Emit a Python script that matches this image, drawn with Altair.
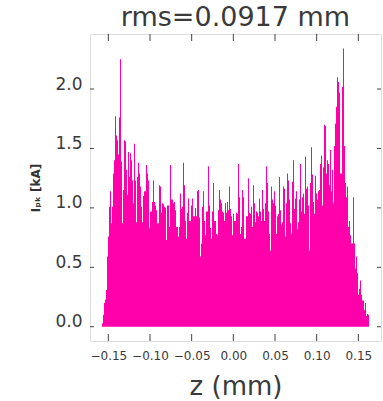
import altair as alt
import pandas as pd

# Peak current per bin (kA), read left to right, one bin per ~0.0012 mm
seg1 = [0.03, 0.10, 0.20, 0.23, 0.31, 0.59, 0.76, 1.01, 1.14, 0.87, 1.01, 1.29, 1.40, 1.77, 1.61, 1.57, 1.45, 1.76,
        2.25, 1.39, 0.87, 1.15, 1.57, 1.56, 1.32, 1.11, 1.47, 1.26, 1.46, 1.40, 1.23, 1.04, 1.54, 1.23, 0.88, 1.26]
seg2 = [1.38, 1.29, 1.18, 1.01, 0.88, 1.10, 1.14, 1.14, 1.36, 1.29, 1.23, 0.83, 0.97, 0.97, 1.05, 1.23, 1.05, 1.02,
        0.98, 0.87, 0.87, 1.19, 1.18, 0.96, 1.04, 1.03, 1.01, 1.00, 0.73, 1.02, 1.02, 0.84, 1.36, 1.07, 1.07, 1.04,
        1.05, 0.98, 0.84, 0.84]
seg3 = [0.76, 0.84, 1.12, 0.99, 1.01, 1.38, 1.19, 0.89, 0.74, 0.96, 1.08, 0.89, 0.89, 1.02, 1.08, 0.93, 0.93, 1.00,
        0.93, 1.14, 1.15, 0.92, 0.59, 0.70, 1.01, 1.14, 0.89, 0.77, 0.97, 0.97, 1.35, 1.02, 0.83, 0.74, 0.97, 1.21,
        0.89, 0.89, 0.78, 0.77]
seg4 = [0.98, 1.15, 1.07, 1.04, 0.97, 0.96, 0.89, 1.04, 0.96, 1.05, 0.98, 1.18, 0.99, 0.93, 0.77, 0.95, 0.89, 0.89,
        0.96, 0.95, 1.37, 1.09, 0.78, 0.84, 1.15, 1.09, 0.74, 0.74, 0.93, 0.93, 1.25, 0.96, 0.95, 1.01, 0.84, 1.19,
        1.04, 0.88, 0.97, 0.96]
seg5 = [0.93, 1.08, 0.97, 0.89, 1.15, 0.99, 0.89, 1.04, 1.35, 1.21, 0.97, 0.78, 0.64, 1.18, 1.07, 1.04, 1.14, 1.02,
        0.78, 0.93, 0.95, 1.26, 0.98, 0.86, 0.88, 1.18, 1.16, 0.76, 1.04, 1.29, 1.23, 1.07, 0.87, 0.78, 1.22, 1.40,
        0.99, 1.08, 1.14, 0.82]
seg6 = [0.88, 1.07, 1.37, 0.97, 1.09, 1.12, 0.95, 1.43, 1.16, 1.18, 1.02, 0.64, 1.21, 1.51, 1.28, 1.05, 0.95, 1.27,
        1.12, 1.07, 1.14, 1.15, 1.37, 1.44, 1.02, 1.34, 1.70, 1.69, 1.29, 1.40, 1.37, 1.19, 1.49, 1.14, 1.32, 1.04,
        1.52, 1.71, 1.85, 2.10]
seg7 = [2.06, 1.97, 1.29, 1.29, 2.02, 2.34, 1.52, 1.21, 1.09, 1.18, 0.84, 0.89, 0.77, 0.70, 0.70, 1.09, 0.70, 0.49,
        0.59, 0.45, 0.27, 0.32, 0.39, 0.27, 0.22, 0.22, 0.14, 0.20, 0.09, 0.11, 0.10]

Z_START = -0.1576   # left edge of first bin (mm)
BIN_W = 0.0012      # bin width (mm)

x_ticks = [-0.15, -0.10, -0.05, 0.00, 0.05, 0.10, 0.15]
y_ticks = [0.0, 0.5, 1.0, 1.5, 2.0]

heights = seg1 + seg2 + seg3 + seg4 + seg5 + seg6 + seg7
df = pd.DataFrame({
    "z0": [Z_START + i * BIN_W for i in range(len(heights))],
    "z1": [Z_START + (i + 1) * BIN_W for i in range(len(heights))],
    "ipk": heights,
    "base": [0.0] * len(heights),
})

W, H = 291, 307
FRAME = "#444444"
FONT = "DejaVu Sans"

xscale = alt.Scale(domain=[-0.172, 0.1772], nice=False, zero=False)
yscale = alt.Scale(domain=[-0.12, 2.463], nice=False, zero=False)

xaxis = alt.Axis(values=x_ticks, format=".2f", tickSize=0, domain=False, grid=False,
                 labelFontSize=12, labelPadding=9, labelColor="#3a3a3a", labelFont=FONT,
                 title="z (mm)", titleFontSize=26, titleFontWeight="normal", titleColor="#3a3a3a",
                 titleFont=FONT, titleY=53, titleBaseline="alphabetic")
yaxis = alt.Axis(values=y_ticks, format=".1f", tickSize=0, domain=False, grid=False,
                 labelFontSize=17, labelPadding=8, labelColor="#3a3a3a", labelFont=FONT,
                 labelBaseline="alphabetic",
                 title="Iₚₖ [kA]", titleFontSize=12, titleFontWeight="bold", titleColor="#333333",
                 titleFont=FONT, titleX=-55, titleY=H / 2, titleAlign="center",
                 titleBaseline="middle", titleAngle=270)

bars = alt.Chart(df).mark_rect(color="#ff00aa").encode(
    x=alt.X("z0:Q", scale=xscale, axis=xaxis),
    x2="z1:Q",
    y=alt.Y("ipk:Q", scale=yscale, axis=yaxis),
    y2="base:Q",
)

xt = pd.DataFrame({"z0": x_ticks})
yt = pd.DataFrame({"ipk": y_ticks})

bottom_ticks = alt.Chart(xt).mark_rule(color=FRAME).encode(
    x=alt.X("z0:Q", scale=xscale, axis=xaxis), y=alt.value(H), y2=alt.value(H - 7))
top_ticks = alt.Chart(xt).mark_rule(color=FRAME).encode(
    x=alt.X("z0:Q", scale=xscale, axis=xaxis), y=alt.value(0), y2=alt.value(7))
left_ticks = alt.Chart(yt).mark_rule(color=FRAME).encode(
    y=alt.Y("ipk:Q", scale=yscale, axis=yaxis), x=alt.value(0), x2=alt.value(4))
right_ticks = alt.Chart(yt).mark_rule(color=FRAME).encode(
    y=alt.Y("ipk:Q", scale=yscale, axis=yaxis), x=alt.value(W), x2=alt.value(W - 4))

chart = alt.layer(bars, bottom_ticks, top_ticks, left_ticks, right_ticks).properties(
    width=W, height=H,
    title=alt.TitleParams("rms=0.0917 mm", fontSize=27, font=FONT, fontWeight="normal", color="#3a3a3a",
                          anchor="middle", baseline="alphabetic", offset=6, frame="group", dy=25),
    autosize=alt.AutoSizeParams(type="none"),
    padding={"left": 90, "top": 34, "right": 2, "bottom": 60},
).configure_view(stroke=FRAME, strokeWidth=1).configure(background="white")

chart.save("out.html", embed_options={"renderer": "svg", "actions": False})
